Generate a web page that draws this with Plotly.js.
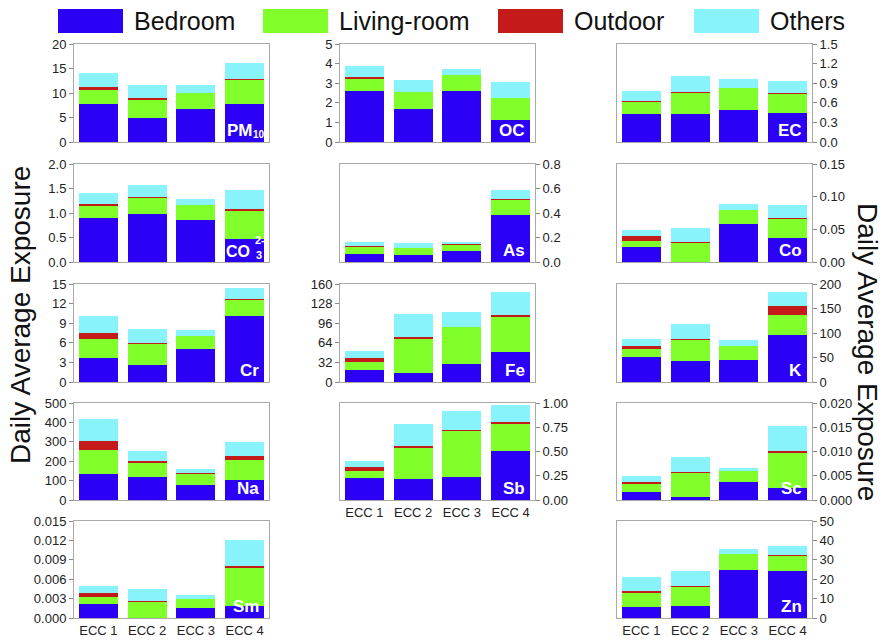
<!DOCTYPE html>
<html><head><meta charset="utf-8">
<script src="https://cdn.plot.ly/plotly-3.0.1.min.js"></script>
<style>html,body{margin:0;padding:0;background:#fff}#chart{width:882px;height:640px}</style>
</head><body><div id="chart"></div>
<script>
const categories = ['ECC 1','ECC 2','ECC 3','ECC 4'];
const seriesNames = ['Bedroom','Living-room','Outdoor','Others'];
const seriesColors = ['#2b00f5','#80ff2a','#c41a1a','#88f3fa'];

const PM10_bedroom = [7.75, 4.85, 6.8, 7.8];
const PM10_living  = [2.85, 3.8, 3.25, 4.85];
const PM10_outdoor = [0.7, 0.25, 0.05, 0.2];
const PM10_others  = [2.7, 2.65, 1.45, 3.25];

const CO3_bedroom = [0.9, 0.97, 0.86, 0.47];
const CO3_living  = [0.25, 0.33, 0.3, 0.58];
const CO3_outdoor = [0.035, 0.03, 0.005, 0.025];
const CO3_others  = [0.225, 0.24, 0.125, 0.385];

const Cr_bedroom = [3.7, 2.6, 5.05, 10.1];
const Cr_living  = [2.95, 3.25, 1.95, 2.45];
const Cr_outdoor = [0.8, 0.15, 0.03, 0.2];
const Cr_others  = [2.7, 2.15, 0.88, 1.7];

const Na_bedroom = [133, 119, 78, 105];
const Na_living  = [124, 71, 58, 100];
const Na_outdoor = [46, 13, 2, 24];
const Na_others  = [113, 50, 24, 69];

const Sm_bedroom = [0.0022, 0.00005, 0.0016, 0.0018];
const Sm_living  = [0.00104, 0.0024, 0.00138, 0.0059];
const Sm_outdoor = [0.00066, 0.00025, 0.00002, 0.0004];
const Sm_others  = [0.00103, 0.0018, 0.00056, 0.004];

const OC_bedroom = [2.62, 1.7, 2.58, 1.12];
const OC_living  = [0.62, 0.85, 0.82, 1.12];
const OC_outdoor = [0.07, 0.02, 0.0, 0.02];
const OC_others  = [0.59, 0.57, 0.32, 0.79];

const As_bedroom = [0.068, 0.054, 0.087, 0.384];
const As_living  = [0.054, 0.058, 0.054, 0.119];
const As_outdoor = [0.008, 0.004, 0.002, 0.011];
const As_others  = [0.036, 0.039, 0.022, 0.076];

const Fe_bedroom = [19, 15.3, 30, 49.2];
const Fe_living  = [13.8, 54.6, 60, 56.2];
const Fe_outdoor = [6.5, 3.3, 0.3, 3.3];
const Fe_others  = [11.5, 37.7, 24, 37.7];

const Sb_bedroom = [0.23, 0.22, 0.24, 0.51];
const Sb_living  = [0.07, 0.32, 0.475, 0.275];
const Sb_outdoor = [0.038, 0.02, 0.003, 0.017];
const Sb_others  = [0.063, 0.223, 0.195, 0.181];

const EC_bedroom = [0.434, 0.423, 0.49, 0.439];
const EC_living  = [0.173, 0.327, 0.337, 0.30];
const EC_outdoor = [0.026, 0.015, 0.003, 0.015];
const EC_others  = [0.147, 0.24, 0.137, 0.184];

const Co_bedroom = [0.0228, 0.0005, 0.0588, 0.0375];
const Co_living  = [0.0091, 0.0289, 0.0208, 0.0284];
const Co_outdoor = [0.0076, 0.0016, 0.0002, 0.002];
const Co_others  = [0.0095, 0.0207, 0.0086, 0.0188];

const K_bedroom = [52, 43, 45.7, 96.2];
const K_living  = [15.6, 43, 27.3, 40.3];
const K_outdoor = [6.8, 2.7, 0.3, 18.5];
const K_others  = [13.7, 30.1, 11.6, 28];

const Sc_bedroom = [0.0017, 0.0006, 0.0037, 0.0024];
const Sc_living  = [0.0016, 0.0049, 0.0023, 0.0073];
const Sc_outdoor = [0.0004, 0.0003, 0.00005, 0.0004];
const Sc_others  = [0.0013, 0.003, 0.0005, 0.0052];

const Zn_bedroom = [5.5, 6, 25, 24];
const Zn_living  = [7.5, 10, 8, 8];
const Zn_outdoor = [1, 0.5, 0.1, 0.3];
const Zn_others  = [7, 7.5, 2.6, 5];

// main label text per panel; [subscript, superscript] parts drawn separately
const panelLabels = ['PM','CO','Cr','Na','Sm','OC','As','Fe','Sb','EC','Co','K','Sc','Zn'];
const panelSub = ['10','3','','','','','','','','','','','',''];
const panelSup = ['','2-','','','','','','','','','','','',''];
const panelData = [
  [PM10_bedroom, PM10_living, PM10_outdoor, PM10_others],
  [CO3_bedroom, CO3_living, CO3_outdoor, CO3_others],
  [Cr_bedroom, Cr_living, Cr_outdoor, Cr_others],
  [Na_bedroom, Na_living, Na_outdoor, Na_others],
  [Sm_bedroom, Sm_living, Sm_outdoor, Sm_others],
  [OC_bedroom, OC_living, OC_outdoor, OC_others],
  [As_bedroom, As_living, As_outdoor, As_others],
  [Fe_bedroom, Fe_living, Fe_outdoor, Fe_others],
  [Sb_bedroom, Sb_living, Sb_outdoor, Sb_others],
  [EC_bedroom, EC_living, EC_outdoor, EC_others],
  [Co_bedroom, Co_living, Co_outdoor, Co_others],
  [K_bedroom, K_living, K_outdoor, K_others],
  [Sc_bedroom, Sc_living, Sc_outdoor, Sc_others],
  [Zn_bedroom, Zn_living, Zn_outdoor, Zn_others]
];
// axis ranges / ticks
const yMax   = [20, 2.0, 15, 500, 0.015, 5, 0.8, 160, 1.0, 1.5, 0.15, 200, 0.020, 50];
const yDtick = [5, 0.5, 3, 100, 0.003, 1, 0.2, 32, 0.25, 0.3, 0.05, 50, 0.005, 10];
const yFmt   = ['d', '.1f', 'd', 'd', '.3f', 'd', '.1f', 'd', '.2f', '.1f', '.2f', 'd', '.3f', 'd'];

// layout positions (pixels)
const W = 882, H = 640;
const colX = [[74, 269], [340, 535], [617, 812]];
const rowY = [[44, 142], [164, 262], [284, 382], [403, 500], [521, 618]];
const panelPos = [[0,0],[0,1],[0,2],[0,3],[0,4],[1,0],[1,1],[1,2],[1,3],[2,0],[2,1],[2,2],[2,3],[2,4]];
const ySide = ['left','left','left','left','left','left','right','left','right','right','right','right','right','right'];
const showX = [false,false,false,false,true,false,false,false,true,false,false,false,false,true];

const data = [];
const layout = {
  width: W, height: H,
  margin: {l:0, r:0, t:0, b:0},
  paper_bgcolor: '#fff', plot_bgcolor: '#fff',
  barmode: 'stack', bargap: 0.2,
  showlegend: false,
  font: {family: 'Liberation Sans, Arial, sans-serif', color: '#222', size: 13},
  annotations: [], shapes: []
};
const frame = '#a9a9a9';
const labelFont = {size: 17, color: '#fff', family: 'Liberation Sans, Arial, sans-serif'};
panelData.forEach((series, i) => {
  const n = i + 1;
  series.forEach((vals, s) => {
    data.push({
      type: 'bar', x: categories, y: vals, name: seriesNames[s],
      xaxis: 'x' + n, yaxis: 'y' + n,
      marker: {color: seriesColors[s], line: {width: 0}},
      hoverinfo: 'name+y', showlegend: false
    });
  });
  const [c, r] = panelPos[i];
  const xd = [colX[c][0] / W, colX[c][1] / W];
  const yd = [1 - rowY[r][1] / H, 1 - rowY[r][0] / H];
  layout['xaxis' + n] = {
    domain: xd, anchor: 'y' + n, type: 'category', range: [-0.5, 3.5],
    showline: true, mirror: true, linecolor: frame, linewidth: 1,
    showgrid: false, zeroline: false, ticks: '', showticklabels: showX[i],
    tickfont: {size: 13, color: '#222'}, fixedrange: true
  };
  layout['yaxis' + n] = {
    domain: yd, anchor: 'x' + n, side: ySide[i], range: [0, yMax[i]],
    tick0: 0, dtick: yDtick[i], tickformat: yFmt[i],
    showline: true, mirror: true, linecolor: frame, linewidth: 1,
    showgrid: false, zeroline: false, ticks: 'outside', ticklen: 4, tickcolor: '#888',
    tickfont: {size: 13, color: '#222'}, fixedrange: true
  };
  const xr = 'x' + n + ' domain', yr = 'y' + n + ' domain';
  const hasSub = panelSub[i] !== '';
  layout.annotations.push({
    xref: xr, yref: yr,
    x: hasSub ? (i === 0 ? 0.93 : 0.914) : 0.958, y: 0.0,
    xanchor: 'right', yanchor: 'bottom', showarrow: false,
    text: '<b>' + panelLabels[i] + '</b>', font: {...labelFont, size: i === 1 ? 16 : 17}
  });
  if (hasSub) {
    layout.annotations.push({
      xref: xr, yref: yr, x: 0.948, y: 0.075,
      xanchor: 'center', yanchor: 'middle', showarrow: false,
      text: '<b>' + panelSub[i] + '</b>', font: {size: i === 0 ? 10 : 11, color: '#fff'}
    });
  }
  if (panelSup[i] !== '') {
    layout.annotations.push({
      xref: xr, yref: yr, x: 0.952, y: 0.225,
      xanchor: 'center', yanchor: 'middle', showarrow: false,
      text: '<b>' + panelSup[i] + '</b>', font: {size: 11, color: '#fff'}
    });
  }
});

// axis titles
layout.annotations.push({
  xref: 'paper', yref: 'paper', x: 20 / W, y: 1 - 315 / H, textangle: -90,
  text: 'Daily Average Exposure', showarrow: false, xanchor: 'center', yanchor: 'middle',
  font: {size: 28, color: '#111'}
});
layout.annotations.push({
  xref: 'paper', yref: 'paper', x: 868 / W, y: 1 - 352 / H, textangle: 90,
  text: 'Daily Average Exposure', showarrow: false, xanchor: 'center', yanchor: 'middle',
  font: {size: 28, color: '#111'}
});

// legend drawn as boxes + text
const legBoxW = 65;
const legTextX = [132, 337, 572, 768];
seriesNames.forEach((nm, s) => {
  const x1 = legTextX[s] - 9;
  layout.shapes.push({
    type: 'rect', xref: 'paper', yref: 'paper',
    x0: (x1 - legBoxW) / W, x1: x1 / W, y0: 1 - 33 / H, y1: 1 - 9 / H,
    fillcolor: seriesColors[s], line: {width: 0}
  });
  layout.annotations.push({
    xref: 'paper', yref: 'paper', x: legTextX[s] / W, y: 1 - 21 / H,
    xanchor: 'left', yanchor: 'middle', showarrow: false, text: nm,
    font: {size: 25, color: '#111'}
  });
});

Plotly.newPlot('chart', data, layout, {staticPlot: true, displayModeBar: false});
</script>
</body></html>
